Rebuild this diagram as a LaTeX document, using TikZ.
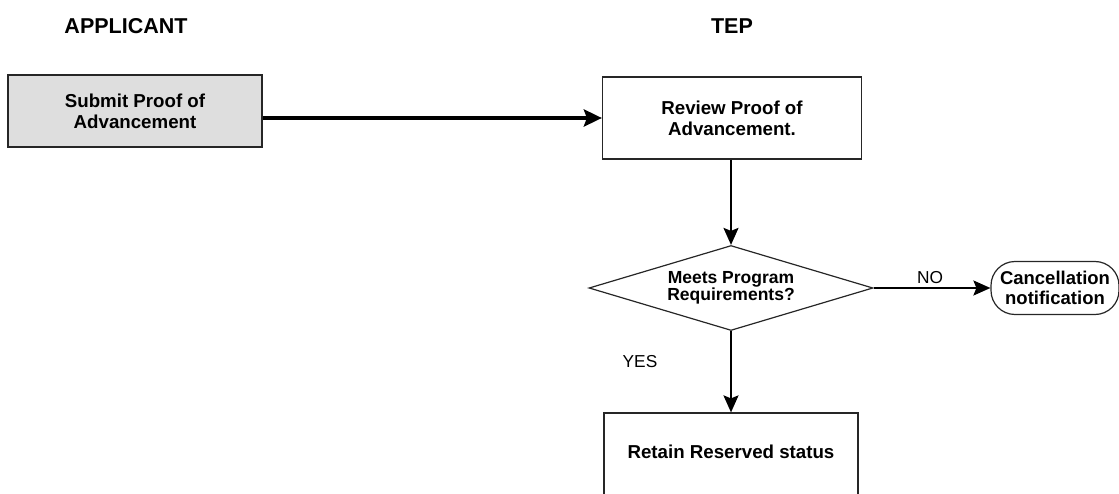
\documentclass[tikz,border=0pt]{standalone}
\usepackage{fontspec}
\setmainfont{Liberation Sans}
\usetikzlibrary{arrows.meta, shapes.geometric, calc, positioning}
\tikzset{
    procBox/.style={rectangle, draw=black!85, line width=1.2pt, inner sep=0pt, align=center, font=\fontsize{18.7}{21}\selectfont\bfseries},
    procText/.style={inner sep=0pt, align=center, font=\fontsize{18.7}{21}\selectfont\bfseries},
    decBox/.style={diamond, draw=black!85, line width=1.2pt, inner sep=0pt, minimum width=284pt, minimum height=85pt},
    termBox/.style={rectangle, rounded corners=24pt, draw=black!85, line width=1.2pt, inner sep=0pt, minimum width=128pt, minimum height=53pt, align=center, font=\fontsize{18.5}{19.5}\selectfont\bfseries},
    headText/.style={font=\fontsize{21.5}{24}\selectfont\bfseries},
    flowText/.style={font=\fontsize{17.3}{19}\selectfont},
    flowEdge/.style={-{Stealth[length=17pt, width=15pt, inset=3pt]}, line width=2pt},
    flowEdgeThick/.style={-{Stealth[length=18pt, width=17pt, inset=3pt]}, line width=4pt},
}
\newcommand{\drawFlow}[3][flowEdge]{
    \draw[#1] (#2) -- (#3);
}
\begin{document}
\begin{tikzpicture}[x=1pt, y=-1pt]
        \useasboundingbox (0, 0) rectangle (1119, 494);
        \clip (0, 0) rectangle (1119, 494);

        \node[headText] (appHead) at (126, 26) {APPLICANT};
        \node[headText] (tepHead) at (732, 26) {TEP};

        \node[procBox, fill=black!13, minimum width=254pt, minimum height=72pt] (submit) at (135, 111) {Submit Proof of\\Advancement};
        \node[procBox, minimum width=259pt, minimum height=82pt] (review) at (732, 118) {Review Proof of\\Advancement.};
        \node[decBox, label={[align=center, font=\fontsize{17.5}{16.5}\selectfont\bfseries]center:Meets Program\\Requirements?}] (meets) at (731, 288) {};
        \node[termBox] (cancel) at (1055, 288) {Cancellation\\notification};
        \node[procBox, minimum width=254pt, minimum height=120pt] (retain) at (731, 473) {};
        \node[procText] (retainText) at (731, 452) {Retain Reserved status};

        \node[flowText] (noText) at (930, 278) {NO};
        \node[flowText] (yesText) at (640, 362) {YES};

        \drawFlow[flowEdgeThick]{submit.east |- review.west}{review.west}
        \drawFlow{review.south -| meets.north}{meets.north}
        \drawFlow{meets.east}{cancel.west}
        \drawFlow{meets.south}{retain.north}

    \end{tikzpicture}
\end{document}
